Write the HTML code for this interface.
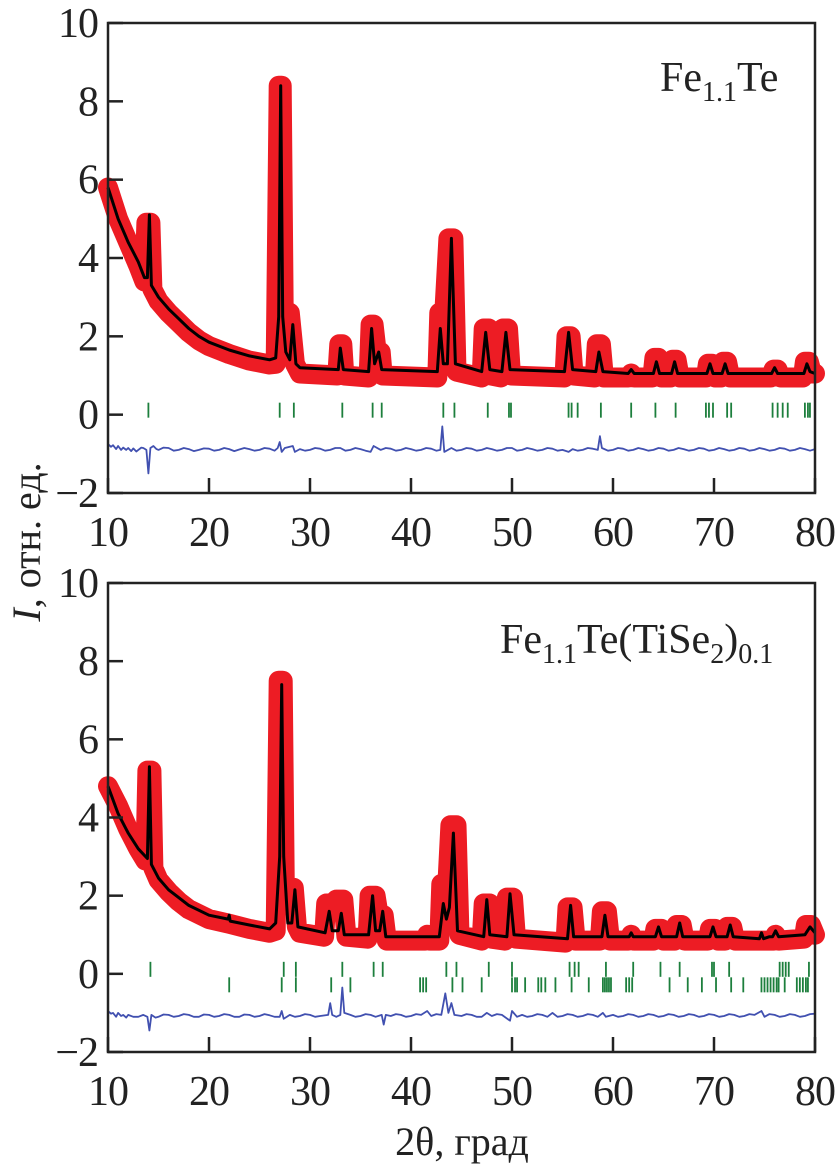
<!DOCTYPE html>
<html><head><meta charset="utf-8"><style>
html,body{margin:0;padding:0;background:#fff}
svg{display:block}
</style></head><body>
<svg id="chart" width="837" height="1168" viewBox="0 0 837 1168" xmlns="http://www.w3.org/2000/svg"></svg>
<script>
const xTicks=[10,20,30,40,50,60,70,80];
const yTicks=[-2,0,2,4,6,8,10];
const yTickLabels=["\u22122","0","2","4","6","8","10"];

// Panel 1: Fe1.1Te
const calc1=[[10,5.8],[11,5.0],[12,4.4],[13,3.9],[13.6,3.5],[13.9,3.5],[14.1,5.1],[14.3,3.3],[15,3.0],[16,2.7],[17,2.45],[18,2.2],[19,2.0],[20,1.85],[22,1.65],[24,1.5],[26,1.4],[26.6,1.45],[26.9,2.5],[27.1,8.4],[27.3,2.5],[27.6,1.6],[28.0,1.4],[28.3,2.3],[28.6,1.3],[29,1.2],[32.8,1.15],[33.0,1.7],[33.3,1.15],[35.8,1.1],[36.1,2.2],[36.4,1.3],[36.8,1.6],[37.1,1.15],[42.6,1.1],[42.9,2.2],[43.2,1.3],[43.6,1.3],[44.0,4.5],[44.4,1.3],[47.0,1.1],[47.4,2.1],[47.8,1.15],[49.0,1.1],[49.4,2.1],[49.8,1.15],[55.2,1.1],[55.6,2.1],[56.0,1.15],[58.3,1.1],[58.6,1.6],[59.0,1.1],[61.5,1.05],[61.8,1.15],[62.1,1.05],[64,1.05],[64.3,1.35],[64.6,1.05],[65.8,1.05],[66.1,1.35],[66.4,1.05],[69.3,1.05],[69.6,1.3],[69.9,1.05],[70.8,1.05],[71.1,1.3],[71.4,1.05],[75.7,1.05],[76,1.2],[76.3,1.05],[78.9,1.05],[79.2,1.3],[79.5,1.1],[80,1.05]];
const obs1=[[10,5.8],[11,5.0],[12,4.4],[13,3.8],[13.6,3.4],[13.8,4.9],[14.2,4.9],[14.4,3.2],[15,2.9],[16,2.6],[17,2.35],[18,2.1],[19,1.9],[20,1.75],[22,1.55],[24,1.38],[26,1.28],[26.6,1.3],[26.9,8.4],[27.2,8.4],[27.4,2.6],[28.0,2.6],[28.5,1.3],[29,1.05],[32.7,1.0],[32.9,1.8],[33.2,1.8],[33.4,1.0],[35.8,0.95],[36.0,2.3],[36.3,2.3],[36.6,1.6],[37.0,1.6],[37.2,1.0],[42.6,0.95],[42.8,2.6],[43.3,2.6],[43.7,4.5],[44.2,4.5],[44.5,1.1],[47.0,0.95],[47.2,2.2],[47.7,2.2],[47.9,1.0],[48.9,0.95],[49.1,2.2],[49.6,2.2],[49.9,1.0],[55.2,0.95],[55.4,2.0],[55.8,2.0],[56.1,1.0],[58.2,0.95],[58.4,1.8],[58.8,1.8],[59.1,0.95],[61.5,0.95],[61.8,1.05],[62.1,0.95],[63.9,0.95],[64.1,1.45],[64.5,1.45],[64.8,0.95],[65.7,0.95],[65.9,1.4],[66.3,1.4],[66.6,0.95],[69.2,0.95],[69.4,1.3],[69.8,1.3],[70.1,0.95],[70.7,0.95],[70.9,1.35],[71.3,1.35],[71.6,0.95],[75.6,0.95],[75.9,1.15],[76.3,1.15],[76.6,0.95],[78.8,0.95],[79.0,1.35],[79.4,1.35],[79.7,1.05],[80,1.05]];
const diff1=[[10,-0.75],[10.3,-0.82],[10.5,-0.78],[10.8,-0.88],[11,-0.8],[11.3,-0.9],[11.5,-0.84],[11.8,-0.9],[12,-0.85],[12.3,-0.93],[12.5,-0.86],[12.8,-0.94],[13,-0.9],[13.3,-0.84],[13.5,-0.85],[13.8,-0.9],[14.0,-1.5],[14.2,-0.85],[14.5,-0.8],[14.8,-0.88],[15,-0.9],[15.5,-0.84],[16,-0.85],[16.5,-0.92],[17,-0.9],[17.5,-0.85],[18,-0.88],[18.5,-0.93],[19,-0.9],[19.5,-0.86],[20,-0.87],[20.5,-0.92],[21,-0.9],[21.5,-0.85],[22,-0.88],[22.5,-0.93],[23,-0.89],[23.5,-0.85],[24,-0.88],[24.5,-0.92],[25,-0.9],[25.5,-0.85],[26,-0.87],[26.5,-0.92],[26.8,-0.85],[27.0,-0.7],[27.2,-0.95],[27.5,-0.85],[28.3,-0.8],[28.5,-0.95],[29,-0.88],[29.5,-0.92],[30,-0.9],[30.5,-0.85],[31,-0.87],[31.5,-0.92],[32,-0.9],[32.5,-0.85],[33,-0.85],[33.5,-0.92],[34,-0.9],[34.5,-0.85],[35,-0.88],[35.5,-0.92],[36,-0.95],[36.3,-0.8],[37,-0.9],[37.5,-0.85],[38,-0.87],[38.5,-0.92],[39,-0.9],[39.5,-0.85],[40,-0.88],[40.5,-0.92],[41,-0.9],[41.5,-0.85],[42,-0.87],[42.5,-0.92],[42.9,-0.9],[43.1,-0.3],[43.3,-0.95],[44,-0.85],[44.5,-0.92],[45,-0.9],[45.5,-0.85],[46,-0.87],[46.5,-0.92],[47,-0.9],[47.5,-0.85],[48,-0.88],[48.5,-0.92],[49,-0.9],[49.5,-0.85],[50,-0.85],[50.5,-0.92],[51,-0.9],[51.5,-0.85],[52,-0.88],[52.5,-0.92],[53,-0.9],[53.5,-0.85],[54,-0.87],[54.5,-0.92],[55,-0.9],[55.6,-0.95],[56,-0.88],[56.5,-0.92],[57,-0.9],[57.5,-0.85],[58,-0.87],[58.5,-0.9],[58.7,-0.55],[58.9,-0.85],[59.5,-0.92],[60,-0.9],[60.5,-0.85],[61,-0.87],[61.5,-0.92],[62,-0.9],[62.5,-0.85],[63,-0.88],[63.5,-0.92],[64,-0.9],[64.5,-0.85],[65,-0.87],[65.5,-0.92],[66,-0.9],[66.5,-0.85],[67,-0.88],[67.5,-0.92],[68,-0.9],[68.5,-0.85],[69,-0.87],[69.5,-0.92],[70,-0.9],[70.5,-0.85],[71,-0.88],[71.5,-0.92],[72,-0.9],[72.5,-0.85],[73,-0.87],[73.5,-0.92],[74,-0.9],[74.5,-0.85],[75,-0.88],[75.5,-0.92],[76,-0.9],[76.5,-0.85],[77,-0.87],[77.5,-0.92],[78,-0.9],[78.5,-0.85],[79,-0.88],[79.5,-0.92],[80,-0.88]];
const refl1=[14.0,27.0,28.4,33.2,36.2,37.1,43.2,44.3,47.6,49.7,49.9,55.6,55.9,56.5,58.8,61.8,64.2,66.2,69.2,69.5,69.9,71.3,71.7,75.8,76.3,76.8,77.3,79.0,79.3,79.5];

// Panel 2: Fe1.1Te(TiSe2)0.1
const calc2=[[10,4.8],[11,4.1],[12,3.6],[13,3.2],[13.9,2.95],[14.1,5.3],[14.3,2.8],[15,2.45],[16,2.15],[17,1.95],[18,1.75],[20,1.5],[21.9,1.4],[22.0,1.5],[22.1,1.35],[24,1.25],[26,1.15],[26.6,1.3],[27.0,3],[27.2,7.4],[27.4,3],[27.8,1.3],[28.2,1.3],[28.5,2.15],[28.8,1.2],[31.5,1.05],[31.9,1.6],[32.2,1.1],[32.8,1.1],[33.1,1.55],[33.4,1.0],[35.8,1.0],[36.2,2.0],[36.5,1.1],[36.9,1.1],[37.2,1.6],[37.5,0.95],[42.8,0.95],[43.2,1.8],[43.5,1.4],[43.8,1.7],[44.2,3.6],[44.6,1.1],[47.2,0.95],[47.5,1.9],[47.8,1.0],[49.5,0.95],[49.8,2.05],[50.2,1.0],[55.5,0.9],[55.8,1.75],[56.1,0.95],[58.9,0.95],[59.2,1.5],[59.5,0.95],[61.6,0.95],[61.8,1.05],[62.0,0.95],[64.2,0.95],[64.5,1.2],[64.8,0.95],[66.3,0.95],[66.6,1.3],[66.9,0.95],[69.6,0.95],[69.9,1.2],[70.2,0.95],[71.3,0.95],[71.6,1.25],[71.9,0.95],[74.5,0.9],[74.7,1.05],[74.9,0.9],[75.5,0.95],[75.8,0.95],[76.1,1.1],[76.4,0.95],[79,1.0],[79.5,1.2],[80,1.05]];
const obs2=[[10,4.8],[11,4.3],[12,3.7],[13,3.2],[13.7,2.9],[13.9,5.2],[14.3,5.2],[14.5,2.7],[15,2.4],[16,2.1],[17,1.85],[18,1.65],[20,1.4],[22,1.28],[24,1.15],[26,1.05],[26.6,1.1],[26.9,7.5],[27.3,7.5],[27.5,2.2],[28.4,2.2],[28.7,1.2],[29,1.05],[31.4,0.95],[31.6,1.8],[32.2,1.8],[32.6,1.9],[33.3,1.9],[33.6,0.95],[35.7,0.9],[35.9,2.0],[36.5,2.0],[36.8,1.5],[37.3,1.5],[37.6,0.85],[41.4,0.85],[41.6,1.0],[41.9,0.85],[42.8,0.85],[43.0,2.3],[43.6,2.3],[43.9,3.8],[44.5,3.8],[44.8,1.0],[47.0,0.85],[47.2,1.8],[47.8,1.8],[48.0,0.9],[49.3,0.85],[49.5,1.95],[50.1,1.95],[50.4,0.9],[55.3,0.8],[55.5,1.7],[56.0,1.7],[56.3,0.85],[58.7,0.85],[58.9,1.6],[59.4,1.6],[59.7,0.85],[61.5,0.85],[61.8,1.0],[62.1,0.85],[64.0,0.85],[64.2,1.15],[64.8,1.15],[65.0,0.85],[66.1,0.85],[66.3,1.25],[66.8,1.25],[67.1,0.85],[69.4,0.85],[69.6,1.15],[70.1,1.15],[70.4,0.85],[71.1,0.85],[71.3,1.2],[71.8,1.2],[72.1,0.85],[75.9,0.85],[76.1,1.0],[76.4,0.85],[78.9,0.9],[79.1,1.25],[79.6,1.25],[80,1.0]];
const diff2=[[10,-0.95],[10.3,-1.02],[10.5,-1.0],[10.8,-1.1],[11,-1.0],[11.3,-1.08],[11.5,-1.05],[11.8,-1.12],[12,-1.05],[12.5,-1.1],[13,-1.1],[13.5,-1.05],[13.9,-1.1],[14.1,-1.45],[14.3,-1.05],[14.7,-1.12],[15,-1.1],[15.5,-1.04],[16,-1.05],[16.5,-1.1],[17,-1.08],[17.5,-1.03],[18,-1.05],[18.5,-1.1],[19,-1.1],[19.5,-1.04],[20,-1.05],[20.5,-1.1],[21,-1.08],[21.5,-1.03],[22,-1.05],[22.5,-1.1],[23,-1.1],[23.5,-1.04],[24,-1.05],[24.5,-1.1],[25,-1.08],[25.5,-1.03],[26,-1.06],[26.5,-1.1],[27,-1.1],[27.2,-0.95],[27.4,-1.15],[28,-1.05],[28.5,-1.1],[29,-1.08],[29.5,-1.03],[30,-1.05],[30.5,-1.1],[31,-1.08],[31.8,-1.05],[32.0,-0.75],[32.2,-1.05],[32.6,-1.1],[33.0,-1.05],[33.2,-0.35],[33.4,-1.0],[34,-1.05],[34.5,-1.1],[35,-1.08],[35.5,-1.03],[36,-1.05],[36.5,-1.1],[37.1,-1.05],[37.3,-1.3],[37.5,-1.05],[38,-1.08],[38.5,-1.03],[39,-1.05],[39.5,-1.1],[40,-1.08],[40.5,-1.03],[41,-1.05],[41.6,-0.95],[42,-1.08],[42.5,-1.03],[43,-1.05],[43.4,-0.5],[43.7,-1.0],[44.0,-0.75],[44.3,-1.05],[45,-1.08],[45.5,-1.03],[46,-1.05],[46.5,-1.1],[47,-1.1],[47.5,-1.0],[48,-1.08],[48.5,-1.03],[49,-1.05],[49.8,-1.2],[50,-0.95],[50.5,-1.1],[51,-1.05],[51.5,-1.1],[52,-1.08],[52.5,-1.03],[53,-1.05],[53.5,-1.1],[54,-1.0],[54.5,-1.1],[55,-1.08],[55.5,-1.03],[56,-1.05],[56.5,-1.1],[57,-1.08],[57.5,-1.03],[58,-1.05],[58.5,-1.1],[59,-1.0],[59.3,-1.1],[60,-1.05],[60.5,-1.1],[61,-1.08],[61.5,-1.03],[62,-1.05],[62.5,-1.1],[63,-1.08],[63.5,-1.03],[64,-1.05],[64.5,-1.1],[65,-1.08],[65.5,-1.03],[66,-1.05],[66.5,-1.1],[67,-1.08],[67.5,-1.03],[68,-1.05],[68.5,-1.1],[69,-1.08],[69.5,-1.03],[70,-1.05],[70.5,-1.1],[71,-1.08],[71.5,-1.03],[72,-1.05],[72.5,-1.1],[73,-1.08],[73.5,-1.03],[74,-1.05],[74.7,-0.95],[75,-1.1],[75.5,-1.03],[76,-1.05],[76.5,-1.1],[77,-1.08],[77.5,-1.03],[78,-1.05],[78.5,-1.1],[79,-1.08],[79.5,-1.03],[80,-1.02]];
const refl2a=[14.2,27.4,28.6,33.2,36.3,37.2,43.5,44.5,47.7,50.0,55.7,56.2,56.6,59.3,62.0,64.7,66.6,69.8,70.0,71.5,76.5,76.8,77.1,77.4,79.4];
const refl2b=[22.0,27.2,28.6,32.1,34.0,40.9,41.2,41.5,44.1,45.1,47.0,50.0,50.3,50.5,51.3,52.6,52.9,53.3,54.3,55.9,57.6,59.0,59.2,59.4,59.6,59.8,61.3,61.6,61.9,65.6,67.4,68.8,70.2,71.7,72.9,74.7,75.0,75.3,75.6,75.9,76.2,76.4,77.0,78.2,78.5,78.8,79.1,79.3];

const NS="http://www.w3.org/2000/svg";
const svg=document.getElementById('chart');
const FONT="'Liberation Serif', 'DejaVu Serif', serif";
function el(tag,attrs,parent){const e=document.createElementNS(NS,tag);for(const k in attrs)e.setAttribute(k,attrs[k]);if(tag==='text'){e.setAttribute('font-family',FONT);e.setAttribute('fill','#222');}(parent||svg).appendChild(e);return e;}
const X0=108,X1=815;
function xs(v){return X0+(v-10)/70*(X1-X0);}
function makeY(top,bot){return v=>bot-(v+2)/12*(bot-top);}
function pts(arr,y){return arr.map(p=>xs(p[0]).toFixed(1)+','+y(p[1]).toFixed(1)).join(' ');}

function panel(id,top,bot,obs,calc,diff,reflRows,labelBaseline){
  const y=makeY(top,bot);
  const g=el('g',{});
  
  
  const o=el('polyline',{points:pts(obs,y),fill:'none',stroke:'#ed1c24','stroke-width':20,'stroke-linejoin':'round','stroke-linecap':'round'},g);
  
  
  const c=el('polyline',{points:pts(calc,y),fill:'none',stroke:'#000','stroke-width':3,'stroke-linejoin':'round'},g);
  
  
  const d=el('polyline',{points:pts(diff,y),fill:'none',stroke:'#4150b0','stroke-width':1.8,'stroke-linejoin':'round'},g);
  
  
  reflRows.forEach((row,ri)=>{
    const yt=y(0)-12+ri*15.5;
    row.forEach(v=>{
      const t=el('line',{x1:xs(v),x2:xs(v),y1:yt,y2:yt+15,stroke:'#1d7f3d','stroke-width':1.8},g);
      
      
    });
  });
  const f=el('rect',{x:X0,y:top,width:X1-X0,height:bot-top,fill:'none',stroke:'#222','stroke-width':2.5},g);
  
  
  xTicks.forEach(v=>{
    const t=el('line',{x1:xs(v),x2:xs(v),y1:bot,y2:bot-15,stroke:'#222','stroke-width':2.5},g);
    
    
    const l=el('text',{x:xs(v),y:labelBaseline,'text-anchor':'middle','font-size':42,'letter-spacing':-1},g);
    l.textContent=v;
    
    
  });
  yTicks.forEach((v,i)=>{
    const t=el('line',{x1:X0,x2:X0+15,y1:y(v),y2:y(v),stroke:'#222','stroke-width':2.5},g);
    
    
    const l=el('text',{x:98,y:y(v)+14,'text-anchor':'end','font-size':42,'letter-spacing':-1},g);
    l.textContent=yTickLabels[i];
    
    
  });
}
panel('panel-fe11te',23,493,obs1,calc1,diff1,[refl1],546);
panel('panel-fe11te-tise2',583,1052,obs2,calc2,diff2,[refl2a,refl2b],1105);

function label(html,x,y,name){
  const t=el('text',{x:x,y:y,'font-size':42});
  t.innerHTML=html;
  
  
}
label('Fe<tspan font-size="28" dy="10">1.1</tspan><tspan dy="-10">Te</tspan>',660,91,'sample-label-fe11te');
label('Fe<tspan font-size="28" dy="10">1.1</tspan><tspan dy="-10">Te(TiSe</tspan><tspan font-size="28" dy="10">2</tspan><tspan dy="-10">)</tspan><tspan font-size="28" dy="10">0.1</tspan>',500,653,'sample-label-fe11te-tise2');

const yt=el('text',{x:0,y:0,'font-size':40,'text-anchor':'middle',transform:'translate(40,542) rotate(-90)'});
yt.innerHTML='<tspan font-style="italic">I</tspan>, отн. ед.';


const xt=el('text',{x:462,y:1155,'font-size':40,'text-anchor':'middle'});
xt.textContent='2θ, град';


</script>
</body></html>
